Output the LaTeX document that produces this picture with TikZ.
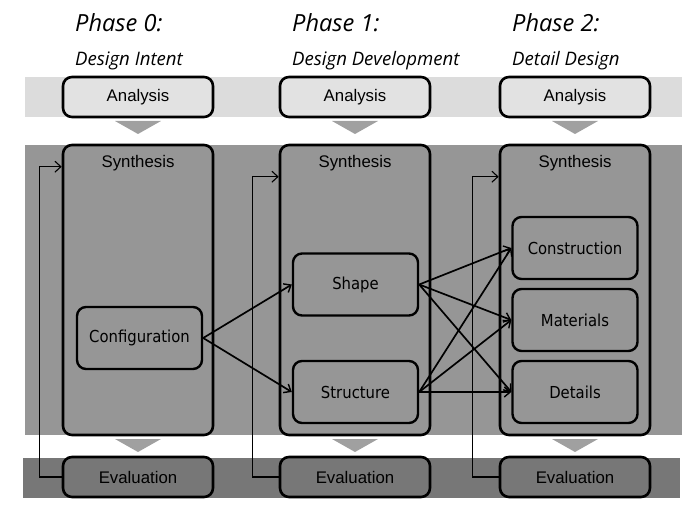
\documentclass[tikz,border=0pt]{standalone}
\usepackage{fontspec}
\setmainfont{Liberation Sans}
\newfontfamily\phasefont{Open Sans}
\newfontfamily\innerfont{DejaVu Sans Condensed}
\usetikzlibrary{arrows.meta,calc}
\definecolor{bandA}{HTML}{DCDCDC}
\definecolor{boxA}{HTML}{E2E2E2}
\definecolor{bandS}{HTML}{969696}
\definecolor{bandE}{HTML}{777777}
\definecolor{tri}{HTML}{A0A0A0}
\tikzset{
  box/.style={draw=black, line width=2.6pt, rounded corners=9pt, minimum width=150pt, minimum height=40pt, inner sep=0pt, font=\fontsize{16.8}{16.8}\selectfont},
  abox/.style={box, fill=boxA},
  sbox/.style={box, fill=bandS, minimum height=290pt},
  ebox/.style={box, fill=bandE},
  ibox/.style={draw=black, line width=2.4pt, rounded corners=9pt, minimum width=125pt, minimum height=62pt, inner sep=0pt, fill=bandS, font=\innerfont\fontsize{16.5}{16.5}\selectfont},
  conn/.style={line width=1.7pt, -{Straight Barb[length=6pt,width=10pt,line width=1.4pt]}},
  fb/.style={line width=1.1pt, -{Straight Barb[length=6pt,width=11pt,line width=1.1pt]}},
  phase/.style={anchor=base west, inner sep=0pt, font=\phasefont\itshape\fontsize{23.6}{23.6}\selectfont},
  sub/.style={anchor=base west, inner sep=0pt, font=\phasefont\itshape\fontsize{18.6}{18.6}\selectfont},
  stxt/.style={inner sep=0pt, font=\fontsize{16.8}{16.8}\selectfont},
}
\begin{document}
\begin{tikzpicture}[x=1pt,y=-1pt]
\useasboundingbox (0,0) rectangle (700,510);
% bands
\fill[bandA] (25,77) rectangle (682,117);
\fill[bandS] (25,145) rectangle (682,435);
\fill[bandE] (23,458) rectangle (680,498);
% triangles
\foreach \cx in {138,355,575}{
  \fill[tri] (\cx-23,121) -- (\cx+23,121) -- (\cx,134) -- cycle;
  \fill[tri] (\cx-23,439) -- (\cx+23,439) -- (\cx,452) -- cycle;
}
% phase labels
\node[phase] (p0) at (75,32) {Phase 0:};
\node[phase] (p1) at (292,32) {Phase 1:};
\node[phase] (p2) at (512,32) {Phase 2:};
\node[sub] (d0) at (75,66) {Design Intent};
\node[sub] (d1) at (292,66) {Design Development};
\node[sub] (d2) at (512,66) {Detail Design};
% analysis
\node[abox] (a0) at (138,97) {Analysis};
\node[abox] (a1) at (355,97) {Analysis};
\node[abox] (a2) at (575,97) {Analysis};
% synthesis
\node[sbox] (s0) at (138,290) {};
\node[sbox] (s1) at (355,290) {};
\node[sbox] (s2) at (575,290) {};
\node[stxt] (st0) at (138,163) {Synthesis};
\node[stxt] (st1) at (355,163) {Synthesis};
\node[stxt] (st2) at (575,163) {Synthesis};
% evaluation
\node[ebox] (e0) at (138,477) {Evaluation};
\node[ebox] (e1) at (355,477) {Evaluation};
\node[ebox] (e2) at (575,477) {Evaluation};
% inner boxes
\node[ibox] (cfg) at (139.5,338) {Configuration};
\node[ibox] (shp) at (355.5,284.5) {Shape};
\node[ibox] (str) at (355.5,392) {Structure};
\node[ibox] (con) at (575,248) {Construction};
\node[ibox] (mat) at (575,320) {Materials};
\node[ibox] (det) at (575,392) {Details};
% connectors
\draw[conn] (cfg.east) -- (shp.west);
\draw[conn] (cfg.east) -- (str.west);
\foreach \s in {shp,str}{
  \foreach \t in {con,mat,det}{
    \draw[conn] (\s.east) -- (\t.west);
  }
}
% feedback
\draw[fb] (e0.west) -- ++(-22,0) |- ($(s0.north west)+(0,23)$);
\draw[fb] (e1.west) -- ++(-26,0) |- ($(s1.north west)+(0,33)$);
\draw[fb] (e2.west) -- ++(-26,0) |- ($(s2.north west)+(0,33)$);
\end{tikzpicture}
\end{document}
